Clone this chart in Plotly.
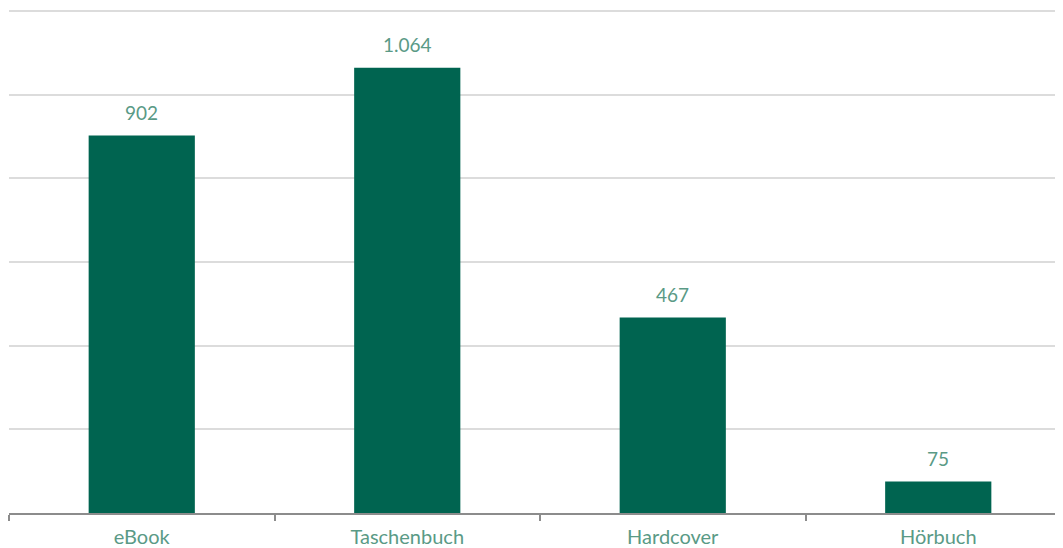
import plotly.graph_objects as go

categories = ["eBook", "Taschenbuch", "Hardcover", "Hörbuch"]
values = [902, 1064, 467, 75]

def de_fmt(v):
    return f"{v:,}".replace(",", ".")

fig = go.Figure(go.Bar(
    x=categories, y=values,
    marker=dict(color="#006450", line=dict(width=0)),
    width=0.4,
    hoverinfo="x+y",
))
for c, v in zip(categories, values):
    fig.add_annotation(
        x=c, y=v, text=de_fmt(v), showarrow=False,
        yanchor="bottom", yshift=10,
        font=dict(family="Lato", size=19, color="#5a9a86"),
    )
fig.update_layout(
    width=1063, height=540,
    margin=dict(l=1, r=0, t=0, b=33),
    paper_bgcolor="white", plot_bgcolor="white",
    showlegend=False,
    font=dict(family="Lato", color="#5a9a86"),
)
fig.update_xaxes(
    showline=True, linecolor="#8c8c8c", linewidth=2,
    ticks="outside", tickson="boundaries", ticklen=6, tickcolor="#8c8c8c", tickwidth=2,
    tickfont=dict(family="Lato", size=20, color="#5a9a86"),
    ticklabelstandoff=5,
    showgrid=False,
)
fig.update_yaxes(
    range=[0, 1207], tickvals=[200, 400, 600, 800, 1000, 1200], showticklabels=False,
    showgrid=True, gridcolor="#dcdcdc", gridwidth=1.5,
    zeroline=False, showline=False,
)
fig.write_html("out.html")
